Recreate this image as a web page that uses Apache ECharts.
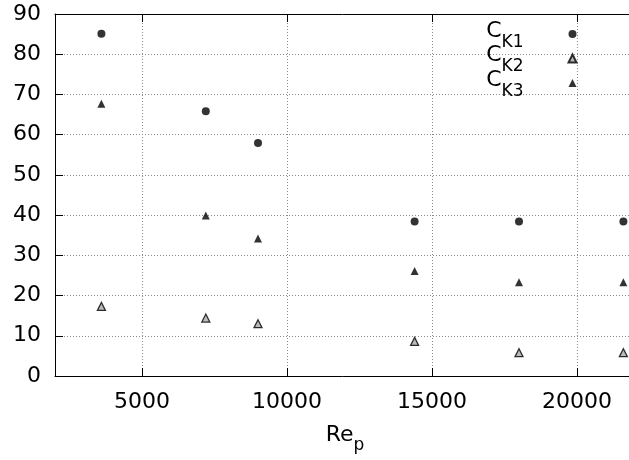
<!DOCTYPE html>
<html><head><meta charset="utf-8">
<script src="https://cdn.jsdelivr.net/npm/echarts@6/dist/echarts.min.js"></script>
<style>html,body{margin:0;padding:0;background:#fff}#c{width:629px;height:460px}</style>
</head><body><div id="c"></div>
<script>
const rep = [3600, 7200, 9000, 14400, 18000, 21600];
const ck1 = [85.1, 65.8, 57.9, 38.4, 38.4, 38.4];
const ck2 = [17.3, 14.4, 13.0, 8.6, 5.8, 5.8];
const ck3 = [67.7, 39.9, 34.2, 26.1, 23.3, 23.3];
const names = ['CK1', 'CK2', 'CK3'];
const subs = {CK1: '1', CK2: '2', CK3: '3'};

const FONT = 'DejaVu Sans';
const chart = echarts.init(document.getElementById('c'), null, {renderer: 'canvas'});
const pts = (ys) => rep.map((x, i) => [x, ys[i]]);
const gridLine = {show: true, lineStyle: {color: '#8a8a8a', type: [1, 2], width: 1}};
chart.setOption({
  animation: false,
  backgroundColor: '#fff',
  grid: {left: 55, top: 14, bottom: 84, width: 580, containLabel: false, outerBoundsMode: 'none'},
  legend: {
    orient: 'vertical', right: 51.5, top: 20, padding: 0,
    align: 'right', itemWidth: 8, itemHeight: 8, itemGap: -6.5,
    data: names,
    formatter: (n) => '{c|C}{s|K' + subs[n] + '}',
    textStyle: {
      fontFamily: FONT, color: '#000', lineHeight: 22,
      rich: {
        c: {fontSize: 22, lineHeight: 22, padding: [0, 0, 3, 0], verticalAlign: 'bottom', fontFamily: FONT, color: '#000'},
        s: {fontSize: 17, lineHeight: 17, padding: [11, 40, 0, 0], verticalAlign: 'top', fontFamily: FONT, color: '#000'}
      }
    }
  },
  xAxis: [{
    type: 'value', min: 2000, max: 22000, splitNumber: 4,
    position: 'bottom',
    name: '{a|Re}{b|p}', nameLocation: 'middle', nameGap: 56,
    nameTextStyle: {
      rich: {
        a: {fontSize: 22, lineHeight: 22, padding: [0, 0, 8, 0], verticalAlign: 'bottom', fontFamily: FONT, color: '#000'},
        b: {fontSize: 17, lineHeight: 17, verticalAlign: 'bottom', fontFamily: FONT, color: '#000'}
      }
    },
    axisLine: {show: true, onZero: false, lineStyle: {color: '#000', width: 1}},
    axisTick: {show: true, inside: true, length: 8, lineStyle: {color: '#000'}},
    axisLabel: {fontFamily: FONT, fontSize: 22, color: '#000', margin: 15, showMinLabel: false, showMaxLabel: false,
      formatter: (v) => String(v)},
    splitLine: gridLine
  }, {
    type: 'value', min: 2000, max: 22000, splitNumber: 4,
    position: 'top',
    axisLine: {show: true, onZero: false, lineStyle: {color: '#000', width: 1}},
    axisTick: {show: true, inside: true, length: 8, lineStyle: {color: '#000'}},
    axisLabel: {show: false},
    splitLine: {show: false}
  }],
  yAxis: [{
    type: 'value', min: 0, max: 90, interval: 10,
    axisLine: {show: true, onZero: false, lineStyle: {color: '#000', width: 1}},
    axisTick: {show: true, inside: true, length: 8, lineStyle: {color: '#000'}},
    axisLabel: {fontFamily: FONT, fontSize: 22, color: '#000', margin: 14},
    splitLine: gridLine
  }],
  series: [
    {name: 'CK1', type: 'scatter', data: pts(ck1), symbol: 'circle', symbolSize: 8,
     itemStyle: {color: '#000'}},
    {name: 'CK2', type: 'scatter', data: pts(ck2), symbol: 'triangle', symbolSize: 8,
     itemStyle: {color: '#aaa', borderColor: '#000', borderWidth: 1.3}},
    {name: 'CK3', type: 'scatter', data: pts(ck3), symbol: 'triangle', symbolSize: 8,
     itemStyle: {color: '#000'}}
  ]
});
</script></body></html>
